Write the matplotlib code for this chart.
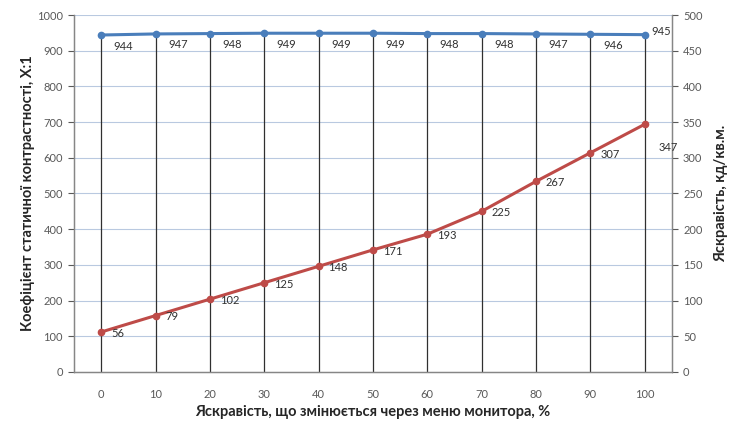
import matplotlib
matplotlib.use("Agg")
import matplotlib.pyplot as plt

x_vals = [0, 10, 20, 30, 40, 50, 60, 70, 80, 90, 100]
contrast = [944, 947, 948, 949, 949, 949, 948, 948, 947, 946, 945]
brightness = [56, 79, 102, 125, 148, 171, 193, 225, 267, 307, 347]
left_ticks = list(range(0, 1001, 100))
right_ticks = list(range(0, 501, 50))

plt.rcParams['font.family'] = ['Lato', 'DejaVu Sans']

fig = plt.figure(figsize=(7.4, 4.34), dpi=100)
ax = fig.add_axes([0.1, 0.1429, 0.808, 0.8225])
ax2 = ax.twinx()

pos = list(range(len(x_vals)))
blue = '#4a7ebb'
red = '#be4b48'
tick_col = '#595959'
spine_col = '#868686'

# gridlines
for t in left_ticks[1:]:
    ax.axhline(t, color='#b9c9e0', lw=0.8, zorder=0)

# drop lines
ax.vlines(pos, 0, contrast, color='#303030', lw=0.9, zorder=1)

ax.plot(pos, contrast, color=blue, lw=2.2, marker='o', ms=4.5, zorder=3)
for i, v in enumerate(contrast):
    if i == len(contrast) - 1:
        ax.annotate(str(v), (pos[i], v), xytext=(5, 2), textcoords='offset points',
                    fontsize=8, color='#303030', va='center', ha='left')
    else:
        ax.annotate(str(v), (pos[i], v), xytext=(9, -4), textcoords='offset points',
                    fontsize=8, color='#303030', va='top', ha='left')

ax2.plot(pos, brightness, color=red, lw=2.2, marker='o', ms=4.5, zorder=3)
for i, v in enumerate(brightness):
    if i == len(brightness) - 1:
        ax2.annotate(str(v), (pos[i], v), xytext=(10, -13), textcoords='offset points',
                     fontsize=8, color='#303030', va='top', ha='left')
    else:
        ax2.annotate(str(v), (pos[i], v), xytext=(7, -1), textcoords='offset points',
                     fontsize=8, color='#303030', va='center', ha='left')

ax.set_xlim(-0.5, len(x_vals) - 0.5)
ax.set_ylim(0, 1000)
ax2.set_ylim(0, 500)
ax.set_xticks(pos)
ax.set_xticklabels([str(v) for v in x_vals])
ax.set_yticks(left_ticks)
ax2.set_yticks(right_ticks)

for a in (ax, ax2):
    for s in a.spines.values():
        s.set_color(spine_col)
        s.set_linewidth(0.9)
    a.spines['top'].set_visible(False)
    a.tick_params(colors=tick_col, labelsize=8, length=4, width=0.8)
ax.tick_params(axis='x', length=0, pad=12)
ax.tick_params(axis='y', pad=4)
ax2.tick_params(axis='y', pad=4)

ax.set_xlabel('Яскравість, що змінюється через меню монитора, %', fontsize=10.5,
              fontweight='bold', color='#262626', labelpad=4)
ax.set_ylabel('Коефіцієнт статичної контрастності, Х:1', fontsize=10.5,
              fontweight='bold', color='#262626', labelpad=1)
ax2.set_ylabel('Яскравість, кд/кв.м.', fontsize=10.5, fontweight='bold',
               color='#262626', labelpad=8, rotation=90)

fig.savefig('out.png', dpi=100)
